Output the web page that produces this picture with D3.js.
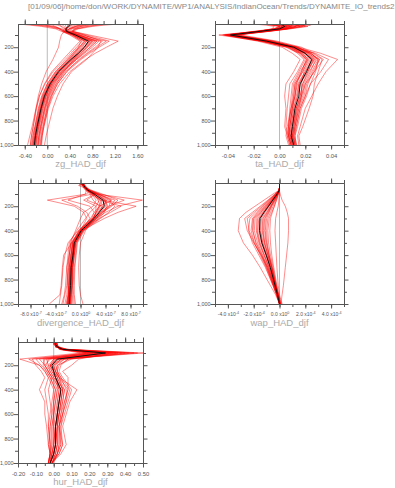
<!DOCTYPE html>
<html>
<head>
<meta charset="utf-8">
<script src="https://cdn.jsdelivr.net/npm/d3@7"></script>
<style>
  body { margin: 0; background: #fff; }
  svg { display: block; font-family: "Liberation Sans", Arial, sans-serif; }
</style>
</head>
<body>
<div id="chart"></div>
<script>
// pressure levels (hPa) shared by every profile
var levels = [10, 20, 30, 50, 70, 100, 150, 200, 250, 300, 400, 500, 600, 700, 850, 925, 1000];
var pressureTicks = [200, 400, 600, 800, 1000];

// zg trend
var zgTicks = [-0.4, 0, 0.4, 0.8, 1.2, 1.6];
var zgMean = [0.43, 0.40, 0.37, 0.33, 0.34, 0.50, 0.73, 0.66, 0.55, 0.42, 0.20, 0.05, -0.05, -0.11, -0.18, -0.21, -0.23];
var zgMembers = [
  [-0.50, -0.30, -0.10, 0.15, 0.25, 0.45, 0.60, 0.55, 0.45, 0.35, 0.15, 0.00, -0.10, -0.16, -0.22, -0.25, -0.27],
  [1.26, 1.00, 0.80, 0.55, 0.45, 0.75, 1.26, 1.05, 0.85, 0.68, 0.40, 0.22, 0.10, 0.02, -0.06, -0.09, -0.11],
  [0.60, 0.55, 0.50, 0.40, 0.30, 0.55, 0.92, 0.80, 0.66, 0.52, 0.28, 0.10, 0.00, -0.07, -0.14, -0.17, -0.19],
  [0.20, 0.22, 0.25, 0.28, 0.35, 0.52, 0.78, 0.66, 0.55, 0.45, 0.22, 0.07, -0.03, -0.10, -0.17, -0.20, -0.22],
  [-0.40, -0.20, 0.00, 0.20, 0.30, 0.25, 0.22, 0.20, 0.15, 0.10, -0.02, -0.10, -0.16, -0.20, -0.25, -0.28, -0.30],
  [0.90, 0.75, 0.60, 0.45, 0.40, 0.60, 1.05, 0.88, 0.72, 0.58, 0.32, 0.15, 0.04, -0.03, -0.10, -0.13, -0.15],
  [0.45, 0.42, 0.40, 0.35, 0.30, 0.45, 0.68, 0.58, 0.48, 0.38, 0.16, 0.02, -0.08, -0.14, -0.21, -0.24, -0.26],
  [-0.20, -0.05, 0.10, 0.25, 0.32, 0.48, 0.70, 0.60, 0.50, 0.40, 0.18, 0.03, -0.07, -0.13, -0.20, -0.23, -0.25],
  [0.30, 0.32, 0.33, 0.35, 0.38, 0.58, 0.85, 0.72, 0.60, 0.48, 0.26, 0.10, 0.01, -0.05, -0.12, -0.15, -0.17],
  [0.50, 0.45, 0.40, 0.30, 0.28, 0.42, 0.62, 0.52, 0.42, 0.32, 0.10, -0.04, -0.14, -0.20, -0.27, -0.31, -0.35],
  [0.70, 0.60, 0.50, 0.38, 0.36, 0.50, 0.75, 0.65, 0.56, 0.47, 0.30, 0.16, 0.06, -0.01, -0.07, -0.10, -0.12],
  [0.05, 0.10, 0.15, 0.22, 0.26, 0.40, 0.58, 0.48, 0.38, 0.28, 0.08, -0.05, -0.14, -0.19, -0.25, -0.28, -0.30],
  [1.00, 0.85, 0.70, 0.50, 0.42, 0.65, 0.98, 0.85, 0.70, 0.56, 0.34, 0.18, 0.07, 0.00, -0.08, -0.11, -0.13],
  [0.40, 0.38, 0.36, 0.33, 0.31, 0.47, 0.70, 0.62, 0.52, 0.43, 0.22, 0.06, -0.04, -0.10, -0.16, -0.19, -0.21],
  [0.80, 0.70, 0.60, 0.48, 0.45, 0.65, 0.95, 0.90, 0.80, 0.70, 0.43, 0.28, 0.18, 0.10, 0.02, -0.02, -0.05],
  [0.10, 0.18, 0.26, 0.32, 0.36, 0.55, 0.82, 0.70, 0.58, 0.46, 0.24, 0.08, -0.02, -0.08, -0.15, -0.18, -0.20],
  [0.65, 0.58, 0.50, 0.40, 0.35, 0.52, 0.80, 0.70, 0.60, 0.50, 0.27, 0.12, 0.02, -0.05, -0.12, -0.15, -0.17],
  [-0.35, -0.15, 0.05, 0.22, 0.30, 0.45, 0.66, 0.56, 0.46, 0.36, 0.14, 0.00, -0.09, -0.15, -0.22, -0.26, -0.28],
  [0.25, 0.28, 0.30, 0.33, 0.36, 0.54, 0.88, 0.76, 0.63, 0.50, 0.25, 0.08, -0.02, -0.09, -0.16, -0.19, -0.21],
  [1.10, 0.90, 0.72, 0.52, 0.44, 0.70, 1.10, 0.92, 0.75, 0.60, 0.35, 0.18, 0.08, 0.01, -0.06, -0.09, -0.10],
  [0.35, 0.36, 0.36, 0.34, 0.33, 0.50, 0.76, 0.64, 0.53, 0.42, 0.19, 0.04, -0.06, -0.12, -0.19, -0.22, -0.24],
  [0.55, 0.50, 0.45, 0.38, 0.34, 0.46, 0.66, 0.57, 0.48, 0.39, 0.18, 0.04, -0.06, -0.12, -0.19, -0.22, -0.25],
  [-0.10, 0.00, 0.12, 0.24, 0.30, 0.50, 0.80, 0.68, 0.56, 0.44, 0.21, 0.06, -0.04, -0.11, -0.18, -0.21, -0.23],
  [0.75, 0.65, 0.55, 0.42, 0.38, 0.56, 0.88, 0.76, 0.64, 0.52, 0.29, 0.13, 0.03, -0.04, -0.11, -0.14, -0.16]
];

// ta trend
var taTicks = [-0.04, -0.02, 0, 0.02, 0.04];
var taMean = [0.000, 0.003, 0.004, 0.000, -0.015, -0.038, -0.010, 0.011, 0.020, 0.025, 0.021, 0.016, 0.015, 0.012, 0.010, 0.009, 0.011];
var taMembers = [
  [0.010, 0.018, 0.020, 0.005, -0.012, -0.042, -0.012, 0.010, 0.022, 0.030, 0.025, 0.020, 0.018, 0.014, 0.011, 0.010, 0.012],
  [-0.008, -0.002, 0.006, -0.003, -0.018, -0.047, -0.015, 0.005, 0.015, 0.020, 0.015, 0.010, 0.009, 0.008, 0.007, 0.006, 0.008],
  [0.020, 0.024, 0.015, 0.004, -0.010, -0.035, -0.005, 0.015, 0.032, 0.045, 0.036, 0.030, 0.025, 0.020, 0.016, 0.014, 0.015],
  [-0.015, -0.005, 0.000, -0.005, -0.020, -0.040, -0.014, 0.008, 0.018, 0.022, 0.018, 0.012, 0.011, 0.010, 0.008, 0.007, 0.009],
  [0.005, 0.010, 0.008, 0.002, -0.014, -0.036, -0.008, 0.013, 0.024, 0.030, 0.028, 0.024, 0.020, 0.016, 0.013, 0.012, 0.013],
  [-0.020, -0.010, -0.004, -0.006, -0.016, -0.030, -0.002, 0.017, 0.026, 0.033, 0.030, 0.027, 0.026, 0.023, 0.018, 0.015, 0.016],
  [0.002, 0.006, 0.010, 0.003, -0.012, -0.039, -0.011, 0.009, 0.017, 0.023, 0.018, 0.013, 0.012, 0.009, 0.006, 0.005, 0.007],
  [0.015, 0.020, 0.012, 0.006, -0.008, -0.033, -0.006, 0.012, 0.020, 0.026, 0.022, 0.016, 0.014, 0.011, 0.009, 0.008, 0.010],
  [-0.005, 0.000, 0.005, -0.002, -0.018, -0.044, -0.017, 0.002, 0.010, 0.016, 0.011, 0.005, 0.004, 0.005, 0.004, 0.006, 0.008],
  [0.008, 0.012, 0.016, 0.006, -0.010, -0.037, -0.009, 0.012, 0.028, 0.038, 0.032, 0.024, 0.021, 0.017, 0.014, 0.012, 0.013],
  [-0.010, -0.004, 0.002, -0.004, -0.017, -0.041, -0.013, 0.007, 0.014, 0.019, 0.014, 0.008, 0.007, 0.006, 0.005, 0.007, 0.009],
  [0.012, 0.016, 0.022, 0.008, -0.008, -0.034, -0.004, 0.014, 0.025, 0.029, 0.023, 0.018, 0.016, 0.013, 0.011, 0.010, 0.012],
  [0.000, 0.004, 0.008, 0.001, -0.015, -0.038, -0.010, 0.011, 0.021, 0.027, 0.021, 0.015, 0.013, 0.011, 0.009, 0.009, 0.011],
  [-0.003, 0.008, 0.002, -0.001, -0.013, -0.040, -0.012, 0.009, 0.019, 0.024, 0.019, 0.017, 0.017, 0.015, 0.012, 0.010, 0.011],
  [0.006, 0.014, 0.012, 0.004, -0.011, -0.036, -0.009, 0.013, 0.023, 0.028, 0.024, 0.019, 0.017, 0.014, 0.012, 0.011, 0.012],
  [-0.012, -0.006, 0.000, -0.004, -0.016, -0.039, -0.011, 0.010, 0.019, 0.025, 0.020, 0.014, 0.012, 0.010, 0.008, 0.008, 0.010],
  [0.018, 0.014, 0.018, 0.007, -0.009, -0.035, -0.007, 0.013, 0.027, 0.034, 0.027, 0.020, 0.017, 0.013, 0.010, 0.009, 0.011],
  [-0.002, 0.004, 0.006, 0.000, -0.015, -0.043, -0.014, 0.006, 0.016, 0.021, 0.017, 0.013, 0.012, 0.010, 0.008, 0.007, 0.009],
  [0.004, 0.009, 0.013, 0.005, -0.011, -0.037, -0.008, 0.014, 0.024, 0.031, 0.026, 0.022, 0.020, 0.016, 0.013, 0.011, 0.012],
  [-0.006, 0.002, 0.004, -0.002, -0.016, -0.041, -0.013, 0.008, 0.017, 0.022, 0.016, 0.011, 0.010, 0.009, 0.007, 0.007, 0.009],
  [0.009, 0.015, 0.010, 0.003, -0.013, -0.038, -0.010, 0.012, 0.022, 0.027, 0.022, 0.018, 0.016, 0.013, 0.011, 0.010, 0.011],
  [-0.001, 0.003, 0.009, 0.002, -0.014, -0.039, -0.011, 0.010, 0.020, 0.026, 0.020, 0.015, 0.014, 0.012, 0.010, 0.009, 0.010],
  [0.014, 0.010, 0.006, 0.001, -0.012, -0.036, -0.007, 0.012, 0.024, 0.031, 0.027, 0.021, 0.019, 0.015, 0.012, 0.011, 0.013],
  [-0.009, -0.003, 0.003, -0.003, -0.017, -0.042, -0.014, 0.007, 0.016, 0.021, 0.017, 0.012, 0.011, 0.009, 0.007, 0.008, 0.010]
];

// divergence trend, in units of 1e-7
var divTicks = [-8, -4, 0, 4, 8];
var divMean = [0.3, 0.4, 0.5, 0.8, 1.2, 2.2, 3.6, 3.8, 3.0, 2.2, 0.1, -1.0, -1.2, -1.5, -1.6, -1.7, -1.8];
var divMembers = [
  [0.0, 0.5, -0.3, 0.6, 1.0, 2.5, 9.9, 6.0, 4.0, 2.5, 0.5, -0.8, -1.0, -1.3, -1.4, -1.5, -1.6],
  [0.5, -0.2, 0.8, 1.0, 1.5, 1.0, -5.3, -1.0, 0.5, 1.0, 0.0, -1.5, -1.8, -2.0, -2.2, -2.5, -2.8],
  [0.2, 0.6, 0.4, 0.9, 1.8, 3.5, 6.0, 5.0, 3.5, 2.5, 0.3, -0.8, -1.1, -1.3, -1.4, -1.5, -1.5],
  [0.3, 0.2, 0.7, 0.5, 0.8, 1.5, 2.0, 3.0, 2.5, 2.0, -0.2, -1.5, -1.8, -2.2, -2.4, -2.6, -3.0],
  [0.1, 0.4, 0.2, 0.7, 1.4, 2.8, 4.5, 5.5, 4.5, 3.2, 0.6, -0.5, -0.7, -0.9, -1.0, -1.0, -0.8],
  [0.4, 0.1, 0.5, 1.1, 0.9, 0.8, -2.0, 1.5, 2.2, 1.8, -0.4, -2.0, -2.5, -2.8, -3.0, -3.2, -3.4],
  [0.2, 0.5, 0.6, 0.8, 1.2, 2.0, 3.0, 2.5, 1.5, 0.8, -0.6, -1.8, -2.0, -2.2, -2.0, -1.8, -2.0],
  [0.3, 0.3, 0.4, 0.9, 1.6, 3.0, 5.0, 3.0, 2.5, 2.0, 0.8, 0.0, -0.2, -0.3, -0.2, 0.0, 0.4],
  [0.1, 0.7, 0.3, 0.6, 1.1, 2.2, 3.5, 8.9, 6.0, 3.8, 0.2, -1.2, -1.4, -1.6, -1.8, -1.9, -2.0],
  [0.5, 0.2, 0.6, 0.7, 1.0, 1.8, 2.5, 2.0, 0.5, 0.0, -0.8, -1.6, -1.8, -1.9, -2.1, -2.2, -2.5],
  [0.2, 0.4, 0.5, 0.8, 1.3, 2.6, 4.0, 4.2, 3.8, 3.0, 0.4, -0.6, -0.8, -1.0, -1.2, -1.1, -1.0],
  [0.3, 0.6, 0.2, 0.7, 1.2, 2.4, 1.0, 3.5, 3.0, 2.6, 0.0, -1.0, -1.3, -1.5, -1.7, -1.9, -2.1],
  [0.1, 0.3, 0.5, 0.9, 1.5, 3.2, 7.0, 4.5, 3.2, 2.0, -0.1, -1.2, -1.5, -1.8, -1.9, -2.0, -2.2],
  [0.4, 0.2, 0.6, 0.8, 1.1, 2.0, -3.0, -0.5, 1.0, 1.5, 0.1, -1.4, -2.7, -2.9, -3.1, -3.3, -5.0],
  [0.2, 0.3, 0.6, 0.8, 1.3, 2.4, 3.8, 4.0, 3.2, 2.4, 0.2, -0.9, -1.2, -1.4, -1.5, -1.6, -1.7],
  [0.4, 0.5, 0.3, 0.7, 1.1, 2.0, 3.2, 3.5, 2.8, 2.0, 0.0, -1.1, -1.3, -1.6, -1.7, -1.8, -1.9],
  [0.3, 0.4, 0.6, 1.0, 1.5, 2.9, 4.8, 4.6, 3.6, 2.7, 0.3, -0.7, -1.0, -1.2, -1.3, -1.4, -1.4],
  [0.1, 0.5, 0.4, 0.8, 1.2, 2.1, 2.8, 3.2, 2.6, 1.9, -0.3, -1.3, -1.6, -1.8, -1.9, -2.0, -2.3],
  [0.2, 0.3, 0.5, 0.7, 1.0, 1.7, 3.2, 6.5, 4.8, 3.0, 0.2, -1.0, -1.3, -1.5, -1.6, -1.7, -1.9],
  [0.3, 0.4, 0.4, 0.9, 1.4, 2.5, 4.2, 3.7, 2.9, 2.1, 0.1, -1.0, -1.2, -1.4, -1.5, -1.6, -1.6],
  [0.5, 0.3, 0.6, 0.8, 1.2, 2.3, 0.5, 2.5, 2.4, 2.2, 0.0, -1.2, -1.5, -1.7, -1.8, -1.9, -2.0],
  [0.2, 0.5, 0.5, 0.8, 1.3, 2.7, 5.5, 4.8, 3.5, 2.3, 0.2, -0.9, -1.1, -1.3, -1.4, -1.5, -1.7],
  [0.3, 0.2, 0.4, 0.6, 1.0, 1.9, 3.4, 3.0, 2.2, 1.6, -0.2, -1.3, -1.5, -1.7, -1.8, -1.9, -2.1],
  [0.1, 0.4, 0.5, 0.9, 1.4, 2.6, 3.9, 4.4, 3.4, 2.5, 0.4, -0.8, -1.0, -1.2, -1.3, -1.3, -1.2]
];

// wap trend, in units of 1e-4
var wapTicks = [-4, -2, 0, 2, 4];
var wapMean = [0, 0, 0, 0, -0.02, -0.18, -0.52, -0.85, -1.19, -1.50, -1.55, -1.37, -1.03, -0.72, -0.34, -0.15, 0.00];
var wapMembers = [
  [0, 0, 0, 0, -0.05, -0.50, -1.20, -1.90, -2.60, -3.10, -3.20, -2.80, -2.10, -1.50, -0.70, -0.30, 0.00],
  [0, 0, 0, 0, 0.00, 0.05, 0.20, 0.45, 0.60, 0.70, 0.70, 0.65, 0.55, 0.45, 0.30, 0.20, 0.10],
  [0, 0, 0, 0, -0.03, -0.30, -0.80, -1.30, -1.80, -2.30, -2.40, -2.10, -1.60, -1.10, -0.50, -0.25, 0.00],
  [0, 0, 0, 0, -0.02, -0.15, -0.45, -0.70, -1.00, -1.30, -1.35, -1.20, -0.90, -0.60, -0.30, -0.10, 0.05],
  [0, 0, 0, 0, -0.01, -0.10, -0.30, -0.50, -0.70, -0.90, -1.00, -0.95, -0.80, -0.55, -0.25, -0.10, 0.10],
  [0, 0, 0, 0, -0.04, -0.35, -0.90, -1.50, -2.10, -2.70, -2.50, -2.00, -1.40, -0.90, -0.40, -0.20, 0.00],
  [0, 0, 0, 0, -0.02, -0.20, -0.60, -1.00, -1.40, -1.80, -1.80, -1.60, -1.20, -0.80, -0.40, -0.15, 0.05],
  [0, 0, 0, 0, -0.01, -0.10, -0.25, -0.40, -0.55, -0.70, -0.75, -0.70, -0.60, -0.45, -0.20, -0.05, 0.15],
  [0, 0, 0, 0, -0.03, -0.25, -0.65, -1.10, -1.50, -2.00, -2.05, -1.85, -1.40, -1.00, -0.45, -0.20, 0.00],
  [0, 0, 0, 0, -0.02, -0.15, -0.40, -0.65, -0.90, -1.15, -1.25, -1.15, -0.90, -0.65, -0.30, -0.12, 0.05],
  [0, 0, 0, 0, 0.00, 0.00, -0.05, -0.10, -0.20, -0.30, -0.35, -0.30, -0.25, -0.20, -0.10, 0.00, 0.20],
  [0, 0, 0, 0, -0.03, -0.28, -0.75, -1.25, -1.70, -2.10, -2.20, -1.95, -1.50, -1.05, -0.50, -0.22, 0.00],
  [0, 0, 0, 0, -0.02, -0.20, -0.55, -0.90, -1.25, -1.60, -1.70, -1.50, -1.15, -0.80, -0.38, -0.15, 0.05],
  [0, 0, 0, 0, -0.01, -0.12, -0.35, -0.60, -0.80, -1.00, -1.10, -1.00, -0.80, -0.60, -0.28, -0.10, 0.08],
  [0, 0, 0, 0, -0.02, -0.18, -0.50, -0.85, -1.20, -1.55, -1.60, -1.40, -1.05, -0.72, -0.34, -0.14, 0.02],
  [0, 0, 0, 0, -0.03, -0.22, -0.62, -1.05, -1.45, -1.90, -1.95, -1.70, -1.30, -0.90, -0.42, -0.18, 0.00],
  [0, 0, 0, 0, -0.01, -0.14, -0.40, -0.70, -0.95, -1.25, -1.30, -1.15, -0.88, -0.62, -0.30, -0.12, 0.04],
  [0, 0, 0, 0, -0.02, -0.20, -0.58, -0.95, -1.30, -1.70, -1.75, -1.55, -1.20, -0.85, -0.40, -0.16, 0.02],
  [0, 0, 0, 0, -0.03, -0.26, -0.70, -1.15, -1.60, -2.05, -2.10, -1.80, -1.35, -0.95, -0.45, -0.20, 0.00],
  [0, 0, 0, 0, -0.01, -0.12, -0.36, -0.62, -0.85, -1.10, -1.15, -1.05, -0.82, -0.58, -0.27, -0.10, 0.06],
  [0, 0, 0, 0, -0.02, -0.17, -0.48, -0.80, -1.10, -1.40, -1.45, -1.30, -1.00, -0.70, -0.33, -0.13, 0.03],
  [0, 0, 0, 0, -0.02, -0.19, -0.54, -0.90, -1.22, -1.55, -1.50, -1.30, -0.98, -0.68, -0.32, -0.13, 0.02],
  [0, 0, 0, 0, -0.04, -0.32, -0.85, -1.40, -1.95, -2.50, -2.35, -1.95, -1.45, -0.98, -0.46, -0.20, 0.00],
  [0, 0, 0, 0, -0.01, -0.08, -0.22, -0.40, -0.60, -0.80, -0.90, -0.85, -0.70, -0.50, -0.24, -0.08, 0.08]
];

// hur trend
var hurTicks = [-0.2, -0.1, 0, 0.1, 0.2, 0.3, 0.4, 0.5];
var hurMean = [0.01, 0.01, 0.01, 0.02, 0.05, 0.29, 0.02, -0.01, 0.00, 0.01, 0.04, 0.03, 0.02, 0.01, 0.01, 0.00, -0.02];
var hurMembers = [
  [0.00, 0.01, 0.00, 0.02, 0.08, 0.50, 0.05, -0.02, 0.00, 0.02, 0.05, 0.04, 0.03, 0.02, 0.02, 0.01, -0.01],
  [0.02, 0.01, 0.02, 0.03, 0.03, 0.15, -0.19, -0.08, -0.05, -0.03, 0.00, -0.01, -0.02, -0.03, -0.02, -0.02, -0.03],
  [0.01, 0.00, 0.01, 0.01, 0.06, 0.35, 0.08, 0.04, 0.03, 0.05, 0.10, 0.08, 0.06, 0.04, 0.05, 0.03, -0.01],
  [0.01, 0.02, 0.01, 0.02, 0.04, 0.25, -0.05, -0.06, -0.04, -0.02, 0.01, 0.00, 0.00, -0.01, -0.01, -0.02, -0.02],
  [0.00, 0.01, 0.02, 0.02, 0.07, 0.40, 0.10, 0.02, 0.01, 0.03, 0.13, 0.09, 0.07, 0.05, 0.07, 0.04, -0.01],
  [0.02, 0.01, 0.01, 0.03, 0.04, 0.20, -0.12, -0.10, -0.07, -0.05, -0.08, -0.05, -0.05, -0.04, -0.03, -0.02, -0.03],
  [0.01, 0.01, 0.00, 0.02, 0.05, 0.30, 0.00, -0.03, -0.01, 0.01, 0.03, 0.02, 0.01, 0.00, 0.00, -0.01, -0.02],
  [0.00, 0.02, 0.01, 0.01, 0.06, 0.32, 0.14, 0.10, 0.05, 0.08, 0.08, 0.06, 0.04, 0.03, 0.03, 0.02, 0.00],
  [0.02, 0.00, 0.01, 0.02, 0.05, 0.28, -0.03, -0.04, -0.02, 0.00, 0.06, 0.05, 0.03, 0.01, 0.02, 0.01, -0.02],
  [0.01, 0.01, 0.02, 0.02, 0.06, 0.38, 0.04, 0.01, 0.02, 0.04, 0.07, 0.07, 0.05, 0.03, 0.04, 0.02, -0.01],
  [0.01, 0.02, 0.01, 0.03, 0.03, 0.18, -0.08, -0.05, -0.03, -0.01, -0.03, -0.02, -0.01, -0.02, -0.03, -0.02, -0.03],
  [0.00, 0.01, 0.01, 0.02, 0.05, 0.26, 0.06, 0.00, 0.01, 0.03, 0.05, 0.04, 0.03, 0.02, 0.01, 0.00, -0.02],
  [0.01, 0.00, 0.01, 0.01, 0.07, 0.45, 0.02, -0.02, 0.00, 0.02, 0.02, 0.01, 0.00, 0.00, 0.01, 0.00, -0.02],
  [0.02, 0.01, 0.02, 0.02, 0.04, 0.22, -0.02, -0.05, -0.03, -0.01, 0.04, 0.03, 0.02, 0.01, 0.00, -0.01, -0.03],
  [0.01, 0.01, 0.01, 0.02, 0.05, 0.33, 0.03, -0.01, 0.01, 0.02, 0.05, 0.04, 0.03, 0.02, 0.02, 0.01, -0.01],
  [0.02, 0.01, 0.02, 0.02, 0.04, 0.24, -0.06, -0.05, -0.03, -0.01, 0.02, 0.01, 0.00, -0.01, -0.01, -0.01, -0.02],
  [0.00, 0.01, 0.01, 0.01, 0.06, 0.36, 0.06, 0.02, 0.02, 0.03, 0.08, 0.06, 0.05, 0.03, 0.03, 0.02, -0.01],
  [0.01, 0.02, 0.01, 0.02, 0.05, 0.27, -0.10, -0.07, -0.04, -0.02, 0.01, 0.00, -0.01, -0.02, -0.02, -0.02, -0.03],
  [0.01, 0.00, 0.01, 0.02, 0.06, 0.42, 0.08, 0.03, 0.02, 0.04, 0.09, 0.07, 0.05, 0.04, 0.04, 0.02, -0.01],
  [0.02, 0.01, 0.01, 0.02, 0.04, 0.21, -0.04, -0.03, -0.02, 0.00, 0.03, 0.02, 0.02, 0.01, 0.01, 0.00, -0.02],
  [0.01, 0.01, 0.02, 0.02, 0.05, 0.31, 0.01, -0.02, 0.00, 0.01, 0.04, 0.03, 0.02, 0.01, 0.00, -0.01, -0.02],
  [0.00, 0.02, 0.01, 0.03, 0.07, 0.47, 0.04, 0.00, 0.01, 0.03, 0.06, 0.05, 0.04, 0.03, 0.05, 0.03, -0.01],
  [0.01, 0.01, 0.00, 0.02, 0.04, 0.19, -0.14, -0.08, -0.05, -0.03, -0.05, -0.04, -0.03, -0.03, -0.02, -0.02, -0.03],
  [0.02, 0.00, 0.01, 0.01, 0.05, 0.29, 0.00, -0.02, -0.01, 0.01, 0.04, 0.03, 0.02, 0.02, 0.01, 0.00, -0.02]
];

var frameColor = "#555",
    labelColor = "#555",
    titleColor = "#aaa";

var svg = d3.select("#chart").append("svg")
    .attr("width", 395)
    .attr("height", 488);

svg.append("text")
    .attr("x", 28)
    .attr("y", 9)
    .attr("font-size", 8)
    .attr("fill", "#888")
    .text("[01/09/06]/home/don/WORK/DYNAMITE/WP1/ANALYSIS/IndianOcean/Trends/DYNAMITE_IO_trends2");

function plainFmt(digits) {
  return function(d) { return d.toFixed(digits); };
}

var panels = [
  {key: "zg", title: "zg_HAD_djf", mean: zgMean, members: zgMembers, domain: [-0.52, 1.70],
   ticks: zgTicks, minor: d3.range(-0.4, 1.61, 0.2), fmt: plainFmt(2), col: 0, row: 0},
  {key: "ta", title: "ta_HAD_djf", mean: taMean, members: taMembers, domain: [-0.05, 0.05],
   ticks: taTicks, minor: d3.range(-0.05, 0.051, 0.01), fmt: plainFmt(2), col: 1, row: 0},
  {key: "div", title: "divergence_HAD_djf", mean: divMean, members: divMembers, domain: [-10, 10],
   ticks: divTicks, minor: d3.range(-10, 10.1, 2), exp: "-7", col: 0, row: 1},
  {key: "wap", title: "wap_HAD_djf", mean: wapMean, members: wapMembers, domain: [-5, 5],
   ticks: wapTicks, minor: d3.range(-5, 5.1, 1), exp: "-4", col: 1, row: 1},
  {key: "hur", title: "hur_HAD_djf", mean: hurMean, members: hurMembers, domain: [-0.2, 0.5],
   ticks: hurTicks, minor: d3.range(-0.2, 0.51, 0.05), fmt: plainFmt(2), col: 0, row: 2}
];

var colX = [18, 215], colW = [125, 129],
    rowY = [24, 183, 342], panelH = 121;

function styleAxis(sel) {
  sel.select(".domain").attr("stroke", frameColor);
  sel.selectAll(".tick line").attr("stroke", frameColor);
  sel.selectAll(".tick text").attr("fill", labelColor).attr("font-size", 5.8)
      .attr("font-family", "Liberation Sans, Arial, sans-serif");
}

function drawPanel(p) {
  var w = colW[p.col], h = panelH;
  var g = svg.append("g")
      .attr("transform", "translate(" + colX[p.col] + "," + rowY[p.row] + ")");

  var x = d3.scaleLinear().domain(p.domain).range([0, w]);
  var y = d3.scaleLinear().domain([10, 1000]).range([0, h]);

  g.append("clipPath").attr("id", "clip-" + p.key)
    .append("rect").attr("width", w).attr("height", h);

  var plot = g.append("g").attr("clip-path", "url(#clip-" + p.key + ")");

  // zero line
  plot.append("line")
      .attr("x1", x(0)).attr("x2", x(0))
      .attr("y1", 0).attr("y2", h)
      .attr("stroke", "#bbb")
      .attr("stroke-width", 1);

  var line = d3.line()
      .x(function(d) { return x(d); })
      .y(function(d, i) { return y(levels[i]); });

  plot.selectAll("path.member")
    .data(p.members)
    .enter().append("path")
      .attr("class", "member")
      .attr("d", line)
      .attr("fill", "none")
      .attr("stroke", "#ff0000")
      .attr("stroke-opacity", 0.5)
      .attr("stroke-width", 0.9);

  plot.append("path")
      .datum(p.mean)
      .attr("d", line)
      .attr("fill", "none")
      .attr("stroke", "#111")
      .attr("stroke-width", 1);

  // bottom axis with labels
  var bottom = g.append("g")
      .attr("transform", "translate(0," + h + ")")
      .call(d3.axisBottom(x).tickValues(p.ticks).tickSize(4.5).tickSizeOuter(0).tickPadding(4)
        .tickFormat(p.fmt || function(d) { return d.toFixed(1); }));
  styleAxis(bottom);

  if (p.exp) {
    bottom.selectAll(".tick text").each(function(d) {
      var t = d3.select(this);
      t.text(null).attr("font-size", 5);
      t.append("tspan").text(d.toFixed(1) + " x10");
      t.append("tspan").attr("dy", "-0.45em").attr("font-size", 3.6).text(d === 0 ? "0" : p.exp);
    });
  }

  g.append("g")
      .attr("transform", "translate(0," + h + ")")
      .call(d3.axisBottom(x).tickValues(p.minor).tickSize(3).tickSizeOuter(0).tickFormat(""))
      .call(styleAxis);

  g.append("g")
      .call(d3.axisTop(x).tickValues(p.ticks).tickSize(4.5).tickSizeOuter(0).tickFormat(""))
      .call(styleAxis);
  g.append("g")
      .call(d3.axisTop(x).tickValues(p.minor).tickSize(3).tickSizeOuter(0).tickFormat(""))
      .call(styleAxis);

  // pressure axes
  var left = g.append("g")
      .call(d3.axisLeft(y).tickValues(pressureTicks).tickSize(4.5).tickSizeOuter(0).tickPadding(0))
      .call(styleAxis);
  left.selectAll(".tick text").attr("font-size", 5.4);
  g.append("g")
      .call(d3.axisLeft(y).tickValues(d3.range(100, 1000, 200)).tickSize(3).tickSizeOuter(0).tickFormat(""))
      .call(styleAxis);
  g.append("g")
      .attr("transform", "translate(" + w + ",0)")
      .call(d3.axisRight(y).tickValues(pressureTicks).tickSize(4.5).tickSizeOuter(0).tickFormat(""))
      .call(styleAxis);
  g.append("g")
      .attr("transform", "translate(" + w + ",0)")
      .call(d3.axisRight(y).tickValues(d3.range(100, 1000, 200)).tickSize(3).tickSizeOuter(0).tickFormat(""))
      .call(styleAxis);

  g.append("text")
      .attr("x", w / 2)
      .attr("y", h + 22)
      .attr("text-anchor", "middle")
      .attr("font-size", 9.5)
      .attr("fill", titleColor)
      .text(p.title);
}

panels.forEach(drawPanel);
</script>
</body>
</html>
